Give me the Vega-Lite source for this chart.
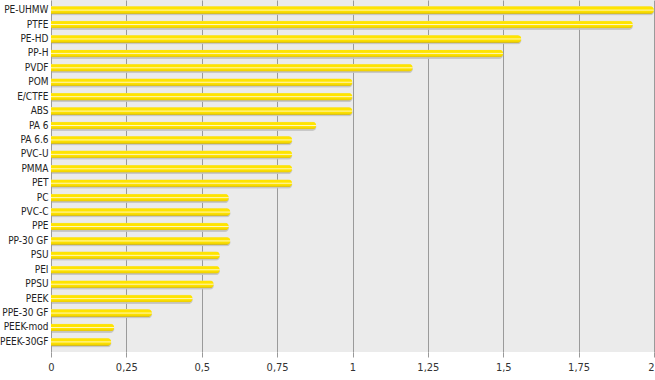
{
  "$schema": "https://vega.github.io/schema/vega-lite/v6.json",
  "width": 603,
  "height": 352,
  "autosize": {"type": "none"},
  "padding": {"left": 51, "top": 0, "right": 1, "bottom": 28},
  "background": "white",
  "config": {
    "view": {"fill": "#ebebeb", "stroke": null},
    "font": "Liberation Sans"
  },
  "data": {
    "values": [
      {"material": "PE-UHMW", "value": 2.0},
      {"material": "PTFE", "value": 1.93},
      {"material": "PE-HD", "value": 1.56},
      {"material": "PP-H", "value": 1.5},
      {"material": "PVDF", "value": 1.2},
      {"material": "POM", "value": 1.0},
      {"material": "E/CTFE", "value": 1.0},
      {"material": "ABS", "value": 1.0},
      {"material": "PA 6", "value": 0.88},
      {"material": "PA 6.6", "value": 0.8},
      {"material": "PVC-U", "value": 0.8},
      {"material": "PMMA", "value": 0.8},
      {"material": "PET", "value": 0.8},
      {"material": "PC", "value": 0.59},
      {"material": "PVC-C", "value": 0.595},
      {"material": "PPE", "value": 0.59},
      {"material": "PP-30 GF", "value": 0.595},
      {"material": "PSU", "value": 0.56},
      {"material": "PEI", "value": 0.56},
      {"material": "PPSU", "value": 0.54},
      {"material": "PEEK", "value": 0.47},
      {"material": "PPE-30 GF", "value": 0.335},
      {"material": "PEEK-mod", "value": 0.21},
      {"material": "PEEK-30GF", "value": 0.2}
    ]
  },
  "encoding": {
    "y": {
      "field": "material",
      "type": "nominal",
      "sort": null,
      "scale": {"paddingInner": 0, "paddingOuter": 0.2},
      "axis": {
        "title": null,
        "domain": false,
        "ticks": false,
        "grid": false,
        "labelPadding": 3,
        "labelFont": "DejaVu Sans Condensed",
        "labelFontSize": 10,
        "labelColor": "#222222"
      }
    },
    "x": {
      "field": "value",
      "type": "quantitative",
      "scale": {"domain": [0, 2], "nice": false, "zero": true},
      "axis": {
        "title": null,
        "values": [0, 0.25, 0.5, 0.75, 1, 1.25, 1.5, 1.75, 2],
        "labelExpr": "replace(format(datum.value, '~g'), '.', ',')",
        "labelAlign": {"expr": "datum.value == 2 ? 'right' : 'center'"},
        "domain": false,
        "grid": true,
        "gridColor": "#9a9a9a",
        "gridWidth": 1,
        "tickColor": "#9a9a9a",
        "tickSize": 5,
        "labelPadding": 4,
        "labelFontSize": 11,
        "labelColor": "#333333",
        "labelFlush": false,
        "labelFont": "DejaVu Sans Condensed"
      }
    }
  },
  "layer": [
    {
      "mark": {
        "type": "bar",
        "size": 8,
        "yOffset": 1.5,
        "xOffset": 1,
        "color": "#c4c4c4",
        "cornerRadiusEnd": 4,
        "opacity": 0.9
      }
    },
    {
      "mark": {
        "type": "bar",
        "size": 8,
        "cornerRadiusEnd": 4,
        "color": {
          "gradient": "linear",
          "x1": 0, "y1": 0, "x2": 0, "y2": 1,
          "stops": [
            {"offset": 0, "color": "#f0e27a"},
            {"offset": 0.15, "color": "#ffe400"},
            {"offset": 0.38, "color": "#ffe400"},
            {"offset": 0.5, "color": "#fff8c0"},
            {"offset": 0.62, "color": "#ffe400"},
            {"offset": 0.85, "color": "#f2d400"},
            {"offset": 1, "color": "#c2ae3a"}
          ]
        }
      }
    }
  ]
}
